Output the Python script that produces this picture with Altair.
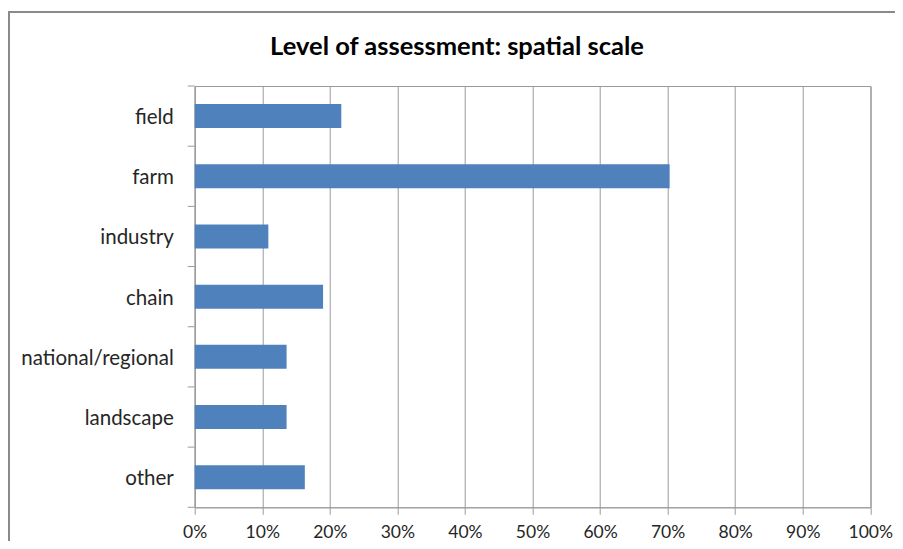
import altair as alt
import pandas as pd

categories = ["field", "farm", "industry", "chain", "national/regional", "landscape", "other"]
shares = [0.217, 0.703, 0.109, 0.190, 0.136, 0.136, 0.163]
x_ticks = [0, 0.1, 0.2, 0.3, 0.4, 0.5, 0.6, 0.7, 0.8, 0.9, 1.0]
title_text = ["Level of assessment: spatial scale"]

df = pd.DataFrame({"scale": categories, "share": shares})
last_df = df[df["scale"] == categories[-1]]
frame_df = pd.DataFrame({"k": [0]})
title_df = pd.DataFrame({"t": title_text})

FONT = "Lato"
W, H = 675.6, 421.3
PL, PT = 186.7, 78
PR = 887 - PL - W
PB = 533 - PT - H
GRID = "#9a9a9a"
TXT = "#262626"

y_enc = alt.Y(
    "scale:N",
    sort=categories,
    scale=alt.Scale(paddingInner=0, paddingOuter=0),
    axis=alt.Axis(
        title=None, ticks=False, tickSize=0, labelPadding=21.4, labelFont=FONT,
        labelFontSize=20.5, labelColor=TXT, domainColor=GRID, labelLimit=300,
        labelOffset=2, grid=False,
    ),
)
x_enc = alt.X(
    "share:Q",
    scale=alt.Scale(domain=[0, 1], nice=False),
    axis=alt.Axis(
        title=None, values=x_ticks, format=".0%", labelFont=FONT, labelFontSize=17.5,
        labelColor=TXT, labelFlush=False, labelPadding=9, tickSize=7, tickColor=GRID,
        domainColor=GRID, gridColor=GRID, grid=True,
    ),
)

bars = alt.Chart(df).mark_bar(height=24, color="#4F81BD").encode(x=x_enc, y=y_enc)

ticks_top = alt.Chart(df).mark_rule(color=GRID).encode(
    y=alt.Y("scale:N", sort=categories, bandPosition=0),
    x=alt.value(-7), x2=alt.value(0),
)
tick_bottom = alt.Chart(last_df).mark_rule(color=GRID).encode(
    y=alt.Y("scale:N", sort=categories, bandPosition=1),
    x=alt.value(-7), x2=alt.value(0),
)
frame_top = alt.Chart(frame_df).mark_rule(stroke="#8a8a8a", strokeWidth=2).encode(
    x=alt.value(8 - 194.7), x2=alt.value(720),
    y=alt.value(12 - 86),
)
frame_left = alt.Chart(frame_df).mark_rule(stroke="#8a8a8a", strokeWidth=2).encode(
    x=alt.value(9 - 194.7),
    y=alt.value(11 - 86), y2=alt.value(480),
)
title = alt.Chart(title_df).mark_text(
    font=FONT, fontSize=25.5, fontWeight="bold", color="#000000",
    align="center", baseline="alphabetic",
).encode(
    text="t:N", x=alt.value(457 - 194.7), y=alt.value(55 - 86),
)

chart = alt.layer(frame_top, frame_left, title, bars, ticks_top, tick_bottom).properties(
    width=W, height=H,
    padding={"left": PL, "top": PT, "right": PR, "bottom": PB},
    autosize=alt.AutoSizeParams(type="none"),
).configure_view(stroke=GRID)

chart.save("out.html", embed_options={"renderer": "svg", "actions": False})
